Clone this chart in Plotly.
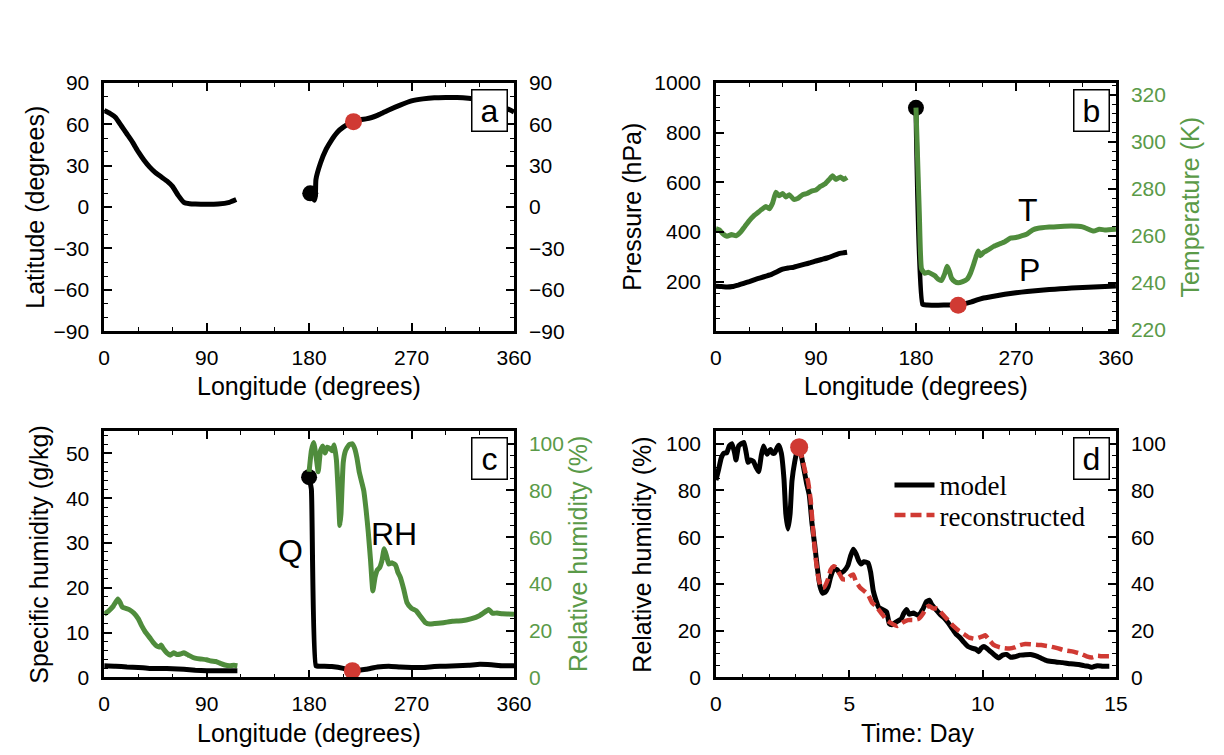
import plotly.graph_objects as go

# ---------------- data ----------------
# Panel a: trajectory latitude vs longitude
lon_a1 = [0, 5, 10, 15, 20, 25, 30, 35, 40, 45, 50, 55, 60, 65, 70, 75, 80, 90, 100, 110, 116]
lat_a1 = [70, 68, 65, 59, 53, 47, 40, 34, 29, 25, 22, 19, 15, 8.5, 3.5, 2.5, 2.2, 2, 2.2, 3.5, 5.5]
lon_a2 = [181, 183, 184.5, 185.5, 186, 190, 195, 200, 205, 210, 215, 219, 225, 230, 235, 240, 245,
          250, 260, 270, 280, 290, 300, 310, 320, 330, 340, 350, 360]
lat_a2 = [10, 7, 5, 8, 20, 32, 42, 49, 54.5, 58, 60.5, 62, 63.5, 64, 65, 66.5, 68.5,
          70.5, 74, 77, 78.5, 79.3, 79.5, 79.5, 79, 78, 76, 73, 69]

# Panel b: pressure and temperature vs longitude
lon_p1 = [0, 5, 10, 15, 20, 25, 30, 35, 40, 45, 50, 55, 60, 65, 70, 75, 80, 85, 90, 95, 100, 105, 110, 115, 118]
p_1 = [181, 180, 178, 180, 186, 193, 200, 208, 215, 222, 229, 240, 250, 255, 258, 264, 270, 276, 283, 289,
       295, 303, 312, 316, 318]
lon_p2 = [180, 186, 190, 200, 210, 215, 220, 225, 230, 235, 240, 250, 260, 270, 280, 290, 300, 310, 320,
          330, 340, 350, 360]
p_2 = [900, 108, 106, 105, 106, 106, 108, 112, 118, 126, 133, 141, 149, 155, 160, 164, 168, 171, 174,
       176, 178, 180, 182]
lon_t1 = [0, 3, 6, 10, 14, 18, 22, 26, 30, 34, 38, 42, 45, 48, 51, 54, 57, 60, 63, 66, 70, 74, 78, 82,
          86, 90, 94, 98, 102, 105, 108, 112, 115, 118]
t_1 = [263, 262.5, 261, 259.8, 260.5, 260, 261.5, 264, 266.5, 268.5, 270, 271.5, 272.5, 271.5, 274,
       278.5, 277, 278, 276.5, 277.5, 275.5, 276, 277.5, 278, 279, 279.5, 281, 282, 284, 285.5, 284,
       285, 284, 284.8]
lon_t2 = [180, 181, 183, 185, 188, 191, 194, 197, 200, 203, 206, 208, 210, 212, 215, 218, 222, 226,
          229, 232, 234, 236, 238, 241, 245, 250, 255, 260, 265, 270, 275, 280, 285, 290, 300, 310,
          320, 330, 340, 345, 350, 360]
t_2 = [314.5, 300, 270, 246, 244, 244.5, 243.8, 243, 241.5, 241, 244, 247, 245, 242, 240.5, 240,
       240.5, 241.5, 244, 248, 251, 253.5, 251.5, 253, 254, 255.5, 256.5, 257.5, 259, 259.3, 260,
       260.8, 262.5, 263.2, 263.7, 264, 264.2, 263.8, 262, 262.8, 262.5, 262.8]

# Panel c: specific humidity and relative humidity vs longitude
lon_q1 = [0, 10, 20, 30, 40, 50, 60, 70, 80, 90, 100, 110, 117]
q_1 = [2.6, 2.5, 2.3, 2.2, 2.0, 2.0, 1.9, 1.8, 1.6, 1.5, 1.5, 1.5, 1.5]
lon_q2 = [180, 182, 186, 190, 200, 210, 215, 220, 230, 240, 250, 260, 270, 280, 290, 300, 310, 320,
          330, 340, 350, 360]
q_2 = [44.7, 42, 2.6, 2.5, 2.4, 2.0, 1.6, 1.5, 1.8, 2.3, 2.5, 2.3, 2.2, 2.2, 2.4, 2.5, 2.6, 2.7,
       2.9, 2.8, 2.6, 2.6]
lon_rh1 = [0, 4, 8, 12, 14, 16, 19, 22, 26, 30, 33, 36, 40, 43, 46, 49, 50, 52, 55, 58, 61, 64, 67,
           70, 74, 78, 82, 86, 90, 94, 98, 102, 106, 110, 114, 117]
rh_1 = [27, 28.5, 30.5, 33.5, 32, 30, 29.5, 29, 27.5, 25, 22, 19.5, 17, 15, 13.5, 13, 13.8, 12.2,
        10.5, 9.5, 10.5, 9.8, 10, 10.5, 9.5, 8.5, 8, 7.8, 7.5, 7, 6.8, 6, 5.3, 5, 5.2, 5]
lon_rh2 = [180, 182, 184, 186, 188, 190, 192, 194, 196, 198, 200, 202, 204, 206, 207, 208, 210, 212,
           215, 218, 220, 222, 224, 226, 228, 230, 232, 234, 236, 238, 240, 242, 244, 246, 248, 250,
           253, 256, 258, 260, 263, 266, 270, 274, 278, 282, 286, 290, 298, 306, 314, 322, 330, 336,
           338, 341, 345, 350, 360]
rh_2 = [88, 97, 100.5, 95, 88, 97, 99, 96, 98.5, 98, 97, 99.5, 93, 75, 65, 70, 92, 97,
        99.5, 100, 98, 94, 88, 84, 80, 72, 62, 50, 37, 43, 46, 47, 50, 55, 52, 48.5,
        49, 48, 45, 43, 38, 32, 29.5, 28.5, 26, 23.5, 22.8, 23, 23.4, 24, 24.2, 25, 26.5, 28.5,
        29, 27.5, 27.5, 27.2, 27]

# Panel d: relative humidity vs time
day_m = [0, 0.1, 0.2, 0.3, 0.4, 0.5, 0.6, 0.7, 0.75, 0.85, 0.95, 1.05, 1.15, 1.2, 1.3, 1.4, 1.5, 1.6,
         1.7, 1.78, 1.85, 1.92, 2.0, 2.05, 2.12, 2.2, 2.3, 2.35, 2.45, 2.55, 2.62, 2.7, 2.78, 2.85,
         2.95, 3.05, 3.12, 3.2, 3.3, 3.4, 3.5, 3.6, 3.7, 3.8, 3.9, 4.0, 4.1, 4.2, 4.3, 4.42, 4.55,
         4.65, 4.8, 4.95, 5.05, 5.15, 5.25, 5.35, 5.45, 5.55, 5.7, 5.8, 5.9, 6.0, 6.1, 6.25, 6.4,
         6.5, 6.6, 6.8, 6.95, 7.05, 7.15, 7.25, 7.4, 7.6, 7.75, 7.9, 8.0, 8.1, 8.25, 8.4, 8.55, 8.7,
         8.85, 9.0, 9.15, 9.3, 9.45, 9.6, 9.75, 9.85, 9.95, 10.05, 10.15, 10.3, 10.45, 10.6, 10.75,
         10.9, 11.05, 11.2, 11.4, 11.6, 11.8, 12.0, 12.2, 12.4, 12.6, 12.8, 13.0, 13.3, 13.6, 13.8,
         14.0, 14.1, 14.3, 14.5, 14.75]
rh_model = [84.4, 89, 94, 96, 96, 99, 100, 96, 93, 99, 100, 100.5, 95, 92, 93, 92.5, 90, 88,
            95, 99, 97, 95.5, 97, 97.5, 96, 96, 98.5, 99.3, 96, 85, 70, 63.5, 70, 84,
            92, 97, 98.5, 95, 89, 83, 78, 66, 57, 47, 39, 36, 36.5, 38.5, 43, 46.5, 46,
            44.5, 45.5, 48, 52, 54.8, 53, 50, 48.5, 49.5, 49, 45, 37, 33, 30, 29, 28,
            23, 22.5, 24, 25, 27.5, 29, 27, 27.5, 26.5, 29, 32.5, 33, 31, 29, 27, 25.5, 23.5,
            21, 18.5, 17, 15, 13.2, 12.5, 12, 11, 12.5, 13.2, 12.5, 11, 9.5, 8.3, 9.5,
            9.8, 8.6, 8.8, 9.5, 9.7, 9.8, 9.2, 8.2, 7.2, 6.8, 6.5, 6.3, 5.8, 5.5, 5.0,
            4.6, 4.3, 5.0, 4.8, 4.8]
day_r = [3.12, 3.25, 3.35, 3.45, 3.55, 3.65, 3.75, 3.85, 3.95, 4.05, 4.2, 4.3, 4.4, 4.5, 4.6, 4.75,
         4.9, 5.05, 5.15, 5.25, 5.4, 5.55, 5.7, 5.85, 6.0, 6.2, 6.4, 6.6, 6.8, 7.0, 7.2, 7.4, 7.6,
         7.75, 7.9, 8.0, 8.15, 8.3, 8.5, 8.7, 8.9, 9.1, 9.3, 9.5, 9.7, 9.85, 10.0, 10.1, 10.25,
         10.4, 10.6, 10.8, 11.0, 11.2, 11.4, 11.6, 11.8, 12.0, 12.2, 12.5, 12.8, 13.1, 13.4, 13.7,
         13.9, 14.1, 14.3, 14.5, 14.75]
rh_recon = [98.5, 93, 88, 84, 76, 62, 50, 42, 38.5, 38.5, 42, 46, 47.5, 47, 45, 42,
            42, 43.5, 44, 41, 38.5, 37, 35.5, 32, 30.5, 27.5, 24.5, 23, 22, 23.5, 24.5, 24.5, 25,
            27, 30, 30.5, 29.5, 29.5, 27, 24.5, 22, 20, 18.5, 17, 16.5, 17, 17.5, 18, 16,
            14, 13, 12.5, 12.3, 12.8, 13.8, 14.3, 14.2, 14, 13.8, 13.3, 12.5, 11.5, 11, 10,
            9, 8.5, 9.2, 9, 9]

# marker points (start: black, reference time: red)
start_a = (181, 10)
red_a = (219, 62)
start_b = (180, 900)
red_b = (218, 105)
start_c = (180, 44.7)
red_c = (218, 1.5)
red_d = (3.12, 98.5)

lon_ticks = [0, 90, 180, 270, 360]
lat_ticks = [-90, -60, -30, 0, 30, 60, 90]
p_ticks = [200, 400, 600, 800, 1000]
t_ticks = [220, 240, 260, 280, 300, 320]
q_ticks = [0, 10, 20, 30, 40, 50]
rh_ticks = [0, 20, 40, 60, 80, 100]
day_ticks = [0, 5, 10, 15]

# ---------------- style ----------------
FONT = "Liberation Sans, Arial, Helvetica, sans-serif"
SERIF = "Liberation Serif, Times New Roman, serif"
BLACK = "#000000"
GREEN_LINE = "#4f8c3c"
GREEN_TXT = "#5a9a48"
RED = "#d03a33"
LW = 5.0
TICKF = 21
TITLEF = 25

W, H = 1224, 755
XL = [92 / W, 510 / W]
XR = [716 / W, 1124 / W]
YT = [1 - 321 / H, 1 - 65 / H]
YB = [1 - 678 / H, 1 - 424 / H]

fig = go.Figure()


def line(x, y, xa, ya, color=BLACK, width=LW, dash=None, name=None, legend=None, show=False):
    fig.add_trace(go.Scatter(x=x, y=y, xaxis=xa, yaxis=ya, mode="lines",
                             line=dict(color=color, width=width, dash=dash, shape="spline", smoothing=0.4),
                             name=name, showlegend=show, legend=legend, hoverinfo="skip"))


def dot(pt, xa, ya, color, size):
    fig.add_trace(go.Scatter(x=[pt[0]], y=[pt[1]], xaxis=xa, yaxis=ya, mode="markers",
                             marker=dict(color=color, size=size), showlegend=False, hoverinfo="skip"))


# panel a
line(lon_a1, lat_a1, "x", "y")
line(lon_a2, lat_a2, "x", "y")
dot(start_a, "x", "y", BLACK, 16)
dot(red_a, "x", "y", RED, 17)

# panel b
line(lon_t1, t_1, "x2", "y4", GREEN_LINE)
line(lon_t2, t_2, "x2", "y4", GREEN_LINE)
line(lon_p1, p_1, "x2", "y3")
line(lon_p2, p_2, "x2", "y3")
dot(start_b, "x2", "y3", BLACK, 16)
dot(red_b, "x2", "y3", RED, 17)

# panel c
line(lon_rh1, rh_1, "x3", "y6", GREEN_LINE)
line(lon_rh2, rh_2, "x3", "y6", GREEN_LINE)
line(lon_q1, q_1, "x3", "y5")
line(lon_q2, q_2, "x3", "y5")
dot(start_c, "x3", "y5", BLACK, 16)
dot(red_c, "x3", "y5", RED, 17)

# panel d
line(day_m, rh_model, "x4", "y7", name="model", legend="legend", show=True)
line(day_r, rh_recon, "x4", "y7", RED, width=4.5, dash="11px,5px", name="reconstructed",
     legend="legend2", show=True)
dot(red_d, "x4", "y7", RED, 18)


def xaxis(domain, anchor, rng, tickvals, minor):
    return dict(domain=domain, anchor=anchor, range=rng, tickvals=tickvals,
                ticks="inside", ticklen=8, tickwidth=1.5, tickcolor=BLACK,
                minor=dict(dtick=minor, tick0=0, ticks="inside", ticklen=4, tickwidth=1.2, tickcolor=BLACK),
                showline=True, linewidth=2.5, linecolor=BLACK, mirror="ticks",
                showgrid=False, zeroline=False, ticklabelstandoff=6,
                tickfont=dict(family=FONT, size=TICKF, color=BLACK))


def yaxis(domain, anchor, rng, tickvals, minor, side="left", overlaying=None, mirror=True,
          color=BLACK):
    d = dict(domain=domain, anchor=anchor, range=rng, tickvals=tickvals, side=side,
             ticks="inside", ticklen=8, tickwidth=1.5, tickcolor=BLACK,
             minor=dict(dtick=minor, tick0=0, ticks="inside", ticklen=4, tickwidth=1.2, tickcolor=BLACK),
             showline=True, linewidth=2.5, linecolor=BLACK, mirror=mirror,
             showgrid=False, zeroline=False, ticklabelstandoff=8,
             tickfont=dict(family=FONT, size=TICKF, color=color))
    if overlaying:
        d["overlaying"] = overlaying
    return d


fig.update_layout(
    xaxis=xaxis(XL, "y", [0, 360], lon_ticks, 30),
    yaxis=yaxis(YT, "x", [-90, 90], lat_ticks, 10),
    yaxis2=yaxis(YT, "x", [-90, 90], lat_ticks, 10, side="right", overlaying="y"),
    xaxis2=xaxis(XR, "y3", [0, 360], lon_ticks, 30),
    yaxis3=yaxis(YT, "x2", [0, 1000], p_ticks, 50),
    yaxis4=yaxis(YT, "x2", [219.4, 325], t_ticks, 4, side="right", overlaying="y3", color=GREEN_TXT),
    xaxis3=xaxis(XL, "y5", [0, 360], lon_ticks, 30),
    yaxis5=yaxis(YB, "x3", [0, 55], q_ticks, 2),
    yaxis6=yaxis(YB, "x3", [0, 105.4], rh_ticks, 5, side="right", overlaying="y5", color=GREEN_TXT),
    xaxis4=xaxis(XR, "y7", [0, 15], day_ticks, 1),
    yaxis7=yaxis(YB, "x4", [0, 105.4], rh_ticks, 5),
    yaxis8=yaxis(YB, "x4", [0, 105.4], rh_ticks, 5, side="right", overlaying="y7"),
)

# empty traces so the duplicated right-hand axes render
fig.add_trace(go.Scatter(x=[None], y=[None], xaxis="x", yaxis="y2", showlegend=False))
fig.add_trace(go.Scatter(x=[None], y=[None], xaxis="x4", yaxis="y8", showlegend=False))

ann = []


def px_ann(text, x, y, size=TITLEF, angle=0, color=BLACK):
    ann.append(dict(text=text, x=x / W, y=1 - y / H, xref="paper", yref="paper", showarrow=False,
                    textangle=angle, font=dict(family=FONT, size=size, color=color),
                    xanchor="center", yanchor="middle"))


# axis titles
px_ann("Latitude (degrees)", 22, 193, angle=-90)
px_ann("Longitude (degrees)", 301, 377)
px_ann("Pressure (hPa)", 630, 193, angle=-90)
px_ann("Temperature (K)", 1200, 193, angle=-90, color=GREEN_TXT)
px_ann("Longitude (degrees)", 920, 377)
px_ann("Specific humidity (g/kg)", 26, 551, angle=-90)
px_ann("Relative humidity (%)", 576, 551, angle=-90, color=GREEN_TXT)
px_ann("Longitude (degrees)", 301, 735)
px_ann("Relative humidity (%)", 641, 551, angle=-90)
px_ann("Time: Day", 922, 735)

# panel letters
for letter, xr, yt in [("a", 504, 71), ("b", 1118, 71), ("c", 504, 430), ("d", 1118, 430)]:
    ann.append(dict(text=letter, x=xr / W, y=1 - yt / H, xref="paper", yref="paper",
                    showarrow=False, xanchor="right", yanchor="top",
                    font=dict(family=FONT, size=32, color=BLACK),
                    bgcolor="white", bordercolor=BLACK, borderwidth=1.5, borderpad=0,
                    width=34, height=40))

# curve labels in data coordinates
for text, x, y, xr, yr in [("T", 281, 490, "x2", "y3"), ("P", 282, 245, "x2", "y3"),
                            ("Q", 164, 28.3, "x3", "y5"), ("RH", 255, 32, "x3", "y5")]:
    ann.append(dict(text=text, x=x, y=y, xref=xr, yref=yr, showarrow=False,
                    font=dict(family=FONT, size=32, color=BLACK), xanchor="center", yanchor="middle"))

leg_common = dict(xref="paper", yref="paper", xanchor="left", yanchor="middle",
                  bgcolor="rgba(0,0,0,0)", borderwidth=0,
                  font=dict(family=SERIF, size=27, color=BLACK), itemwidth=40)
fig.update_layout(
    annotations=ann,
    legend=dict(x=893 / W, y=1 - 480 / H, **leg_common),
    legend2=dict(x=893 / W, y=1 - 511 / H, **leg_common),
    width=W, height=H,
    margin=dict(l=0, r=0, t=0, b=0),
    paper_bgcolor="white", plot_bgcolor="white",
    showlegend=True,
)

fig.write_html("out.html")
